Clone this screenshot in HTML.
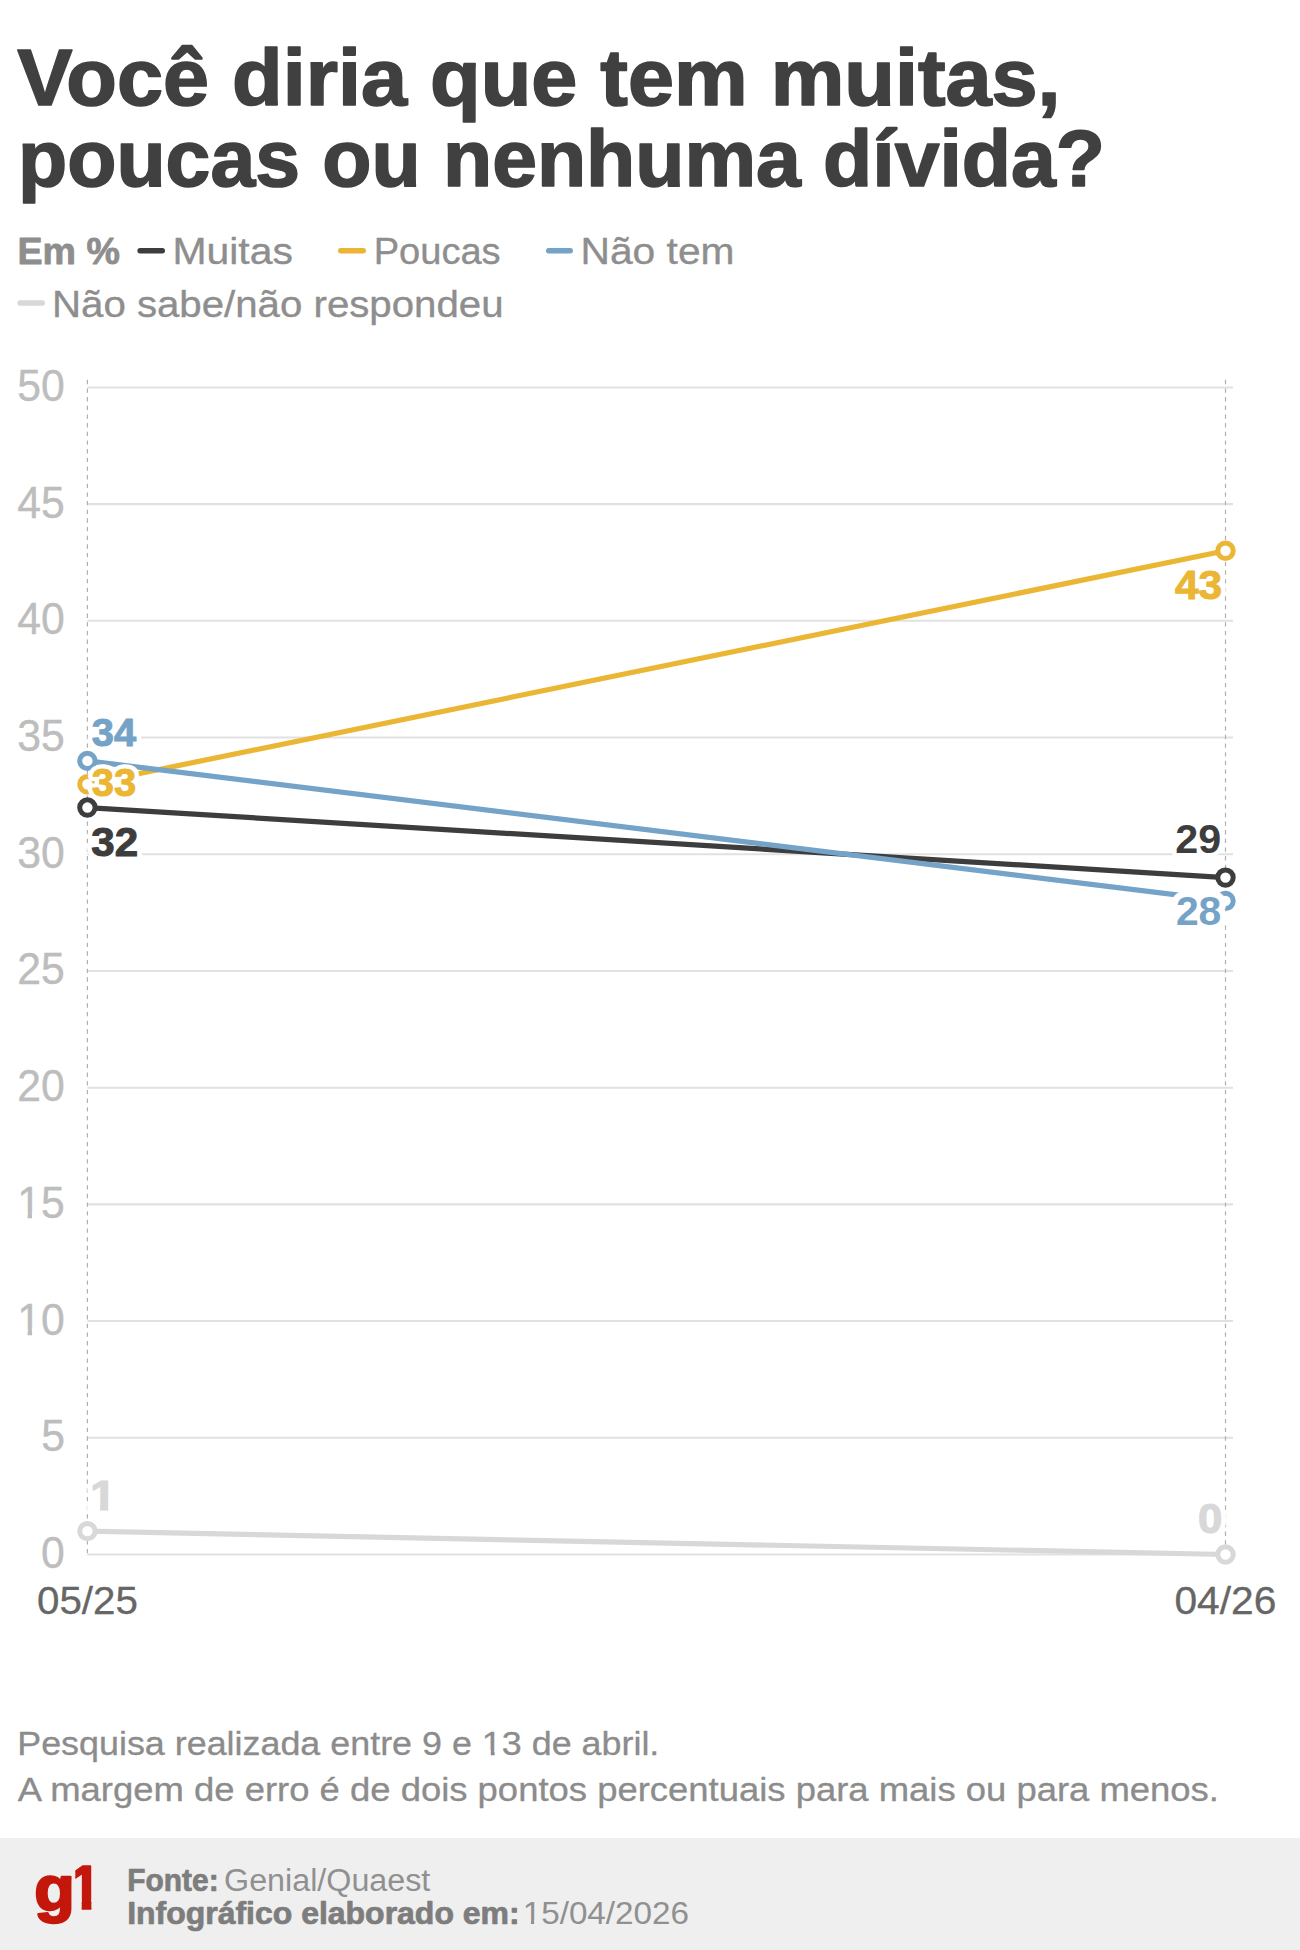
<!DOCTYPE html>
<html lang="pt-BR">
<head>
<meta charset="utf-8">
<title>Você diria que tem muitas, poucas ou nenhuma dívida?</title>
<style>
html,body{margin:0;padding:0;background:#fff;}
body{width:1300px;height:1950px;overflow:hidden;font-family:"Liberation Sans",sans-serif;}
svg{display:block;position:absolute;left:0;top:0;}
svg text{font-family:"Liberation Sans",sans-serif;white-space:pre;}
.halo{fill:#fff;stroke:#fff;stroke-linejoin:round;stroke-linecap:round;}
.grid line{stroke:#e1e1e1;stroke-width:2.05;}
.vdash{stroke:#b0b0b0;stroke-width:1.2;stroke-dasharray:4.33 4.33;}
.series line{stroke-width:5.2;stroke-linecap:butt;}
.series circle{fill:#fff;stroke-width:5.0;}
.sw{stroke-width:5.4;stroke-linecap:round;}
</style>
</head>
<body>
<svg width="1300" height="1950" viewBox="0 0 1300 1950">
<rect x="0" y="0" width="1300" height="1950" fill="#ffffff"/>
<rect id="footbg" x="0" y="1838" width="1300" height="112" fill="#efefef"/>
<g class="grid">
<line x1="87.4" y1="1554.50" x2="1233" y2="1554.50"/>
<line x1="87.4" y1="1437.79" x2="1233" y2="1437.79"/>
<line x1="87.4" y1="1321.08" x2="1233" y2="1321.08"/>
<line x1="87.4" y1="1204.37" x2="1233" y2="1204.37"/>
<line x1="87.4" y1="1087.66" x2="1233" y2="1087.66"/>
<line x1="87.4" y1="970.95" x2="1233" y2="970.95"/>
<line x1="87.4" y1="854.24" x2="1233" y2="854.24"/>
<line x1="87.4" y1="737.53" x2="1233" y2="737.53"/>
<line x1="87.4" y1="620.82" x2="1233" y2="620.82"/>
<line x1="87.4" y1="504.11" x2="1233" y2="504.11"/>
<line x1="87.4" y1="387.40" x2="1233" y2="387.40"/>
</g>
<line class="vdash" x1="87.4" y1="379.8" x2="87.4" y2="1554.5"/>
<line class="vdash" x1="1225.5" y1="379.8" x2="1225.5" y2="1554.5"/>
<line class="sw" x1="140.1" y1="250.8" x2="162.3" y2="250.8" stroke="#3d3d3d"/>
<line class="sw" x1="340.7" y1="250.8" x2="363.3" y2="250.8" stroke="#eab634"/>
<line class="sw" x1="548.7" y1="250.8" x2="570.3" y2="250.8" stroke="#74a3c7"/>
<line class="sw" x1="20.1" y1="303.0" x2="42.3" y2="303.0" stroke="#d8d8d8"/>
<g class="series" id="s_muitas" stroke="#3d3d3d">
<line x1="87.4" y1="807.56" x2="1225.5" y2="877.58"/>
<circle cx="87.4" cy="807.56" r="7.7"/>
<circle cx="1225.5" cy="877.58" r="7.7"/>
</g>
<g class="series" id="s_poucas" stroke="#eab634">
<line x1="87.4" y1="784.21" x2="1225.5" y2="550.79"/>
<circle cx="87.4" cy="784.21" r="7.7"/>
<circle cx="1225.5" cy="550.79" r="7.7"/>
</g>
<g class="series" id="s_naotem" stroke="#74a3c7">
<line x1="87.4" y1="760.87" x2="1225.5" y2="900.92"/>
<circle cx="87.4" cy="760.87" r="7.7"/>
<circle cx="1225.5" cy="900.92" r="7.7"/>
</g>
<g class="series" id="s_nsnr" stroke="#d8d8d8">
<line x1="87.4" y1="1531.16" x2="1225.5" y2="1554.50"/>
<circle cx="87.4" cy="1531.16" r="7.7"/>
<circle cx="1225.5" cy="1554.50" r="7.7"/>
</g>
<defs>
<clipPath id="c_y10"><rect x="-50.00" y="-4000.00" width="4000.00" height="3994.64"/><rect x="-50.00" y="-5.36" width="50.00" height="4000.00"/><rect x="10.11" y="-5.36" width="4.32" height="4000.00"/><rect x="23.08" y="-5.36" width="4000.00" height="4000.00"/></clipPath>
<clipPath id="c_y15"><rect x="-50.00" y="-4000.00" width="4000.00" height="3994.64"/><rect x="-50.00" y="-5.36" width="50.00" height="4000.00"/><rect x="10.11" y="-5.36" width="4.32" height="4000.00"/><rect x="23.08" y="-5.36" width="4000.00" height="4000.00"/></clipPath>
<clipPath id="c_d1"><rect x="-50.00" y="-4000.00" width="4000.00" height="3993.55"/><rect x="-50.00" y="-6.45" width="50.00" height="4000.00"/><rect x="8.36" y="-6.45" width="6.60" height="4000.00"/><rect x="21.47" y="-6.45" width="4000.00" height="4000.00"/></clipPath>
<clipPath id="c_n1"><rect x="-50.00" y="-4000.00" width="4000.00" height="3995.56"/><rect x="-50.00" y="-4.44" width="470.95" height="4000.00"/><rect x="428.83" y="-4.44" width="3.47" height="4000.00"/><rect x="439.05" y="-4.44" width="4000.00" height="4000.00"/></clipPath>
<clipPath id="c_g11_l"><rect x="7.20" y="-4000" width="4000" height="8000"/></clipPath>
<clipPath id="c_g11" clip-path="url(#c_g11_l)"><rect x="-50.00" y="-4000.00" width="4000.00" height="3989.76"/><rect x="-50.00" y="-10.24" width="50.00" height="4000.00"/><rect x="14.45" y="-10.24" width="10.96" height="4000.00"/><rect x="36.72" y="-10.24" width="4000.00" height="4000.00"/></clipPath>
<clipPath id="c_f4"><rect x="-50.00" y="-4000.00" width="4000.00" height="3995.96"/><rect x="-50.00" y="-4.04" width="50.00" height="4000.00"/><rect x="7.39" y="-4.04" width="2.95" height="4000.00"/><rect x="16.69" y="-4.04" width="4000.00" height="4000.00"/></clipPath>
</defs>
<text id="t1" transform="translate(17.27,104.70) scale(1.0621,1.0150)" font-size="78" font-weight="700" fill="#404040" stroke="#404040" stroke-width="1.6" stroke-linejoin="round">Você diria que tem muitas,</text>
<text id="t2" transform="translate(18.11,186.30) scale(1.0321,1.0150)" font-size="78" font-weight="700" fill="#404040" stroke="#404040" stroke-width="1.6" stroke-linejoin="round">poucas ou nenhuma dívida?</text>
<text id="l0" transform="translate(17.47,264.00) scale(1.0168,1.0000)" font-size="37" font-weight="700" fill="#8e8e8e" stroke="#8e8e8e" stroke-width="0.8" stroke-linejoin="round">Em %</text>
<text id="l1" transform="translate(172.43,264.00) scale(1.1060,1.0000)" font-size="37" font-weight="400" fill="#8e8e8e" stroke="#8e8e8e" stroke-width="0.35" stroke-linejoin="round">Muitas</text>
<text id="l2" transform="translate(373.66,264.00) scale(1.0294,1.0000)" font-size="37" font-weight="400" fill="#8e8e8e" stroke="#8e8e8e" stroke-width="0.35" stroke-linejoin="round">Poucas</text>
<text id="l3" transform="translate(580.44,264.00) scale(1.1022,1.0000)" font-size="37" font-weight="400" fill="#8e8e8e" stroke="#8e8e8e" stroke-width="0.35" stroke-linejoin="round">Não tem</text>
<text id="l4" transform="translate(51.99,317.00) scale(1.0872,1.0000)" font-size="37" font-weight="400" fill="#8e8e8e" stroke="#8e8e8e" stroke-width="0.35" stroke-linejoin="round">Não sabe/não respondeu</text>
<text id="y0" transform="translate(40.91,1568.00) scale(1.0300,1.0600)" font-size="41.5" font-weight="400" fill="#bdbdbd" stroke="#bdbdbd" stroke-width="0.35" stroke-linejoin="round">0</text>
<text id="y5" transform="translate(41.16,1451.29) scale(1.0300,1.0600)" font-size="41.5" font-weight="400" fill="#bdbdbd" stroke="#bdbdbd" stroke-width="0.35" stroke-linejoin="round">5</text>
<text id="y10" transform="translate(17.21,1334.58) scale(1.0300,1.0600)" font-size="41.5" font-weight="400" fill="#bdbdbd" stroke="#bdbdbd" stroke-width="0.35" stroke-linejoin="round" clip-path="url(#c_y10)">10</text>
<text id="y15" transform="translate(17.22,1217.87) scale(1.0300,1.0600)" font-size="41.5" font-weight="400" fill="#bdbdbd" stroke="#bdbdbd" stroke-width="0.35" stroke-linejoin="round" clip-path="url(#c_y15)">15</text>
<text id="y20" transform="translate(17.21,1101.16) scale(1.0300,1.0600)" font-size="41.5" font-weight="400" fill="#bdbdbd" stroke="#bdbdbd" stroke-width="0.35" stroke-linejoin="round">20</text>
<text id="y25" transform="translate(17.22,984.45) scale(1.0300,1.0600)" font-size="41.5" font-weight="400" fill="#bdbdbd" stroke="#bdbdbd" stroke-width="0.35" stroke-linejoin="round">25</text>
<text id="y30" transform="translate(17.21,867.74) scale(1.0300,1.0600)" font-size="41.5" font-weight="400" fill="#bdbdbd" stroke="#bdbdbd" stroke-width="0.35" stroke-linejoin="round">30</text>
<text id="y35" transform="translate(17.22,751.03) scale(1.0300,1.0600)" font-size="41.5" font-weight="400" fill="#bdbdbd" stroke="#bdbdbd" stroke-width="0.35" stroke-linejoin="round">35</text>
<text id="y40" transform="translate(17.21,634.32) scale(1.0300,1.0600)" font-size="41.5" font-weight="400" fill="#bdbdbd" stroke="#bdbdbd" stroke-width="0.35" stroke-linejoin="round">40</text>
<text id="y45" transform="translate(17.22,517.61) scale(1.0300,1.0600)" font-size="41.5" font-weight="400" fill="#bdbdbd" stroke="#bdbdbd" stroke-width="0.35" stroke-linejoin="round">45</text>
<text id="y50" transform="translate(17.21,400.90) scale(1.0300,1.0600)" font-size="41.5" font-weight="400" fill="#bdbdbd" stroke="#bdbdbd" stroke-width="0.35" stroke-linejoin="round">50</text>
<text id="x1" transform="translate(36.99,1614.00) scale(1.0755,1.0550)" font-size="37.5" font-weight="400" fill="#666666" stroke="#666666" stroke-width="0.3" stroke-linejoin="round">05/25</text>
<text id="x2" transform="translate(1174.43,1614.00) scale(1.0871,1.0550)" font-size="37.5" font-weight="400" fill="#666666" stroke="#666666" stroke-width="0.3" stroke-linejoin="round">04/26</text>
<text id="d34_h" class="halo" transform="translate(91.83,745.90) scale(1.0317,1.0000)" font-size="38.6" font-weight="700" stroke-width="9.67">34</text>
<text id="d34" transform="translate(91.83,745.90) scale(1.0317,1.0000)" font-size="38.6" font-weight="700" fill="#74a3c7" stroke="#74a3c7" stroke-width="1" stroke-linejoin="round">34</text>
<text id="d33_h" class="halo" transform="translate(91.83,796.00) scale(1.0338,1.0000)" font-size="38.6" font-weight="700" stroke-width="9.67">33</text>
<text id="d33" transform="translate(91.83,796.00) scale(1.0338,1.0000)" font-size="38.6" font-weight="700" fill="#eab634" stroke="#eab634" stroke-width="1" stroke-linejoin="round">33</text>
<text id="d32_h" class="halo" transform="translate(91.31,855.80) scale(1.0917,1.0300)" font-size="38.6" font-weight="700" stroke-width="9.67">32</text>
<text id="d32" transform="translate(91.31,855.80) scale(1.0917,1.0300)" font-size="38.6" font-weight="700" fill="#3d3d3d" stroke="#3d3d3d" stroke-width="1" stroke-linejoin="round">32</text>
<text id="d43_h" class="halo" transform="translate(1174.94,599.40) scale(1.0698,1.0350)" font-size="39.6" font-weight="700" stroke-width="9.67">43</text>
<text id="d43" transform="translate(1174.94,599.40) scale(1.0698,1.0350)" font-size="39.6" font-weight="700" fill="#eab634" stroke="#eab634" stroke-width="1" stroke-linejoin="round">43</text>
<text id="d29_h" class="halo" transform="translate(1175.32,853.00) scale(1.0215,1.0000)" font-size="40.4" font-weight="700" stroke-width="8.67">29</text>
<text id="d29" transform="translate(1175.32,853.00) scale(1.0215,1.0000)" font-size="40.4" font-weight="700" fill="#3d3d3d">29</text>
<text id="d28_h" class="halo" transform="translate(1175.88,925.00) scale(1.0118,1.0000)" font-size="40.4" font-weight="700" stroke-width="13.2">28</text>
<text id="d28" transform="translate(1175.88,925.00) scale(1.0118,1.0000)" font-size="40.4" font-weight="700" fill="#74a3c7">28</text>
<text id="d1_h" class="halo" transform="translate(89.98,1509.50) scale(1.2170,1.0900)" font-size="38.6" font-weight="700" stroke-width="9.67">1</text>
<text id="d1" transform="translate(89.98,1509.50) scale(1.2170,1.0900)" font-size="38.6" font-weight="700" fill="#d8d8d8" stroke="#d8d8d8" stroke-width="1" stroke-linejoin="round" clip-path="url(#c_d1)">1</text>
<text id="d0_h" class="halo" transform="translate(1198.04,1532.60) scale(1.1353,1.0780)" font-size="38.6" font-weight="700" stroke-width="9.67">0</text>
<text id="d0" transform="translate(1198.04,1532.60) scale(1.1353,1.0780)" font-size="38.6" font-weight="700" fill="#d8d8d8" stroke="#d8d8d8" stroke-width="1" stroke-linejoin="round">0</text>
<text id="n1" transform="translate(17.21,1754.60) scale(1.1043,1.0000)" font-size="32.5" font-weight="400" fill="#8c8c8c" stroke="#8c8c8c" stroke-width="0.3" stroke-linejoin="round" clip-path="url(#c_n1)">Pesquisa realizada entre 9 e 13 de abril.</text>
<text id="n2" transform="translate(17.83,1800.80) scale(1.1219,1.0000)" font-size="32.5" font-weight="400" fill="#8c8c8c" stroke="#8c8c8c" stroke-width="0.3" stroke-linejoin="round">A margem de erro é de dois pontos percentuais para mais ou para menos.</text>
<text id="g1g" transform="translate(34.13,1909.80) scale(1.0226,0.9750)" font-size="65" font-weight="700" fill="#c4170c" stroke="#c4170c" stroke-width="2.4" stroke-linejoin="round">g</text>
<text id="g11" transform="translate(69.00,1909.40) scale(0.8800,0.9620)" font-size="66" font-weight="700" fill="#c4170c" stroke="#c4170c" stroke-width="1.6" stroke-linejoin="round" clip-path="url(#c_g11)">1</text>
<text id="f1" transform="translate(127.26,1891.00) scale(0.9971,1.0400)" font-size="30" font-weight="700" fill="#7d7d7d" stroke="#7d7d7d" stroke-width="0.7" stroke-linejoin="round">Fonte:</text>
<text id="f2" transform="translate(224.07,1891.00) scale(1.0758,1.0500)" font-size="30" font-weight="400" fill="#909090">Genial/Quaest</text>
<text id="f3" transform="translate(127.13,1924.20) scale(1.0659,1.0400)" font-size="30" font-weight="700" fill="#7d7d7d" stroke="#7d7d7d" stroke-width="0.7" stroke-linejoin="round">Infográfico elaborado em:</text>
<text id="f4" transform="translate(522.67,1924.20) scale(1.1088,1.0500)" font-size="30" font-weight="400" fill="#909090" clip-path="url(#c_f4)">15/04/2026</text>
</svg>
</body>
</html>
